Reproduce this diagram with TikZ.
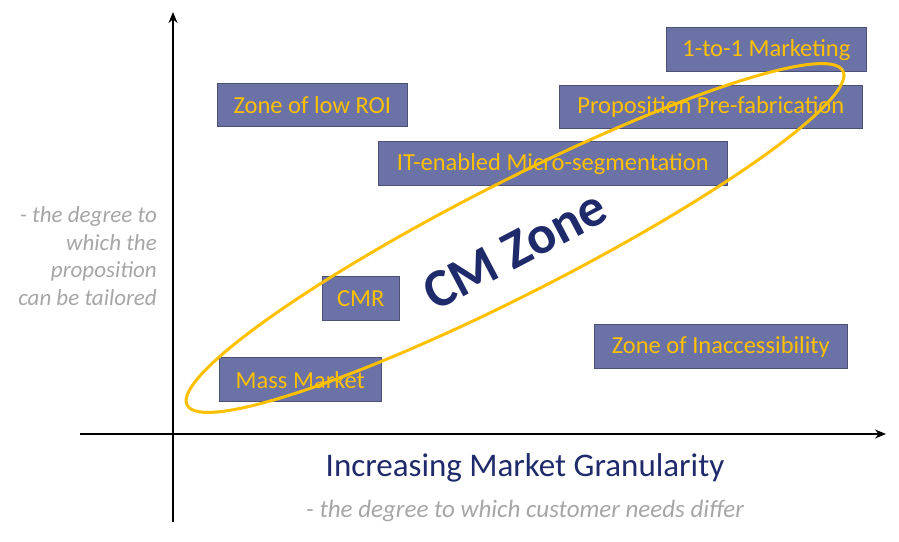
\documentclass[tikz,border=0pt]{standalone}
\usepackage{fontspec}
\setmainfont{Carlito}
\usetikzlibrary{arrows.meta}
\definecolor{boxc}{HTML}{6B72A6}
\definecolor{txto}{HTML}{FFC000}
\definecolor{navy}{HTML}{1F2A6B}
\definecolor{grayt}{HTML}{A6A6A6}
\tikzset{zbox/.style={fill=boxc,draw=boxc!70!black,line width=0.6pt,anchor=south west,inner sep=0pt},
ztxt/.style={text=txto,font=\fontsize{24.5}{28}\selectfont,inner sep=0pt},
ax/.style={line width=1.8pt,-{Stealth[length=11pt,width=9pt]}}}
\begin{document}
\begin{tikzpicture}[x=1pt,y=1pt]
\useasboundingbox (0,0) rectangle (899,541);
\coordinate (o) at (173,19);
\coordinate (yt) at (173,529);
\coordinate (xl) at (80,107);
\coordinate (xr) at (886,107);
\draw[ax] (o) -- (yt);
\draw[ax] (xl) -- (xr);
\node[zbox,minimum width=200pt,minimum height=44pt] (a) at (666,469) {};
\node[ztxt] (at) at (a.center) {1-to-1 Marketing};
\node[zbox,minimum width=303pt,minimum height=43pt] (b) at (559,412) {};
\node[ztxt] (bt) at (b.center) {Proposition Pre-fabrication};
\node[zbox,minimum width=190pt,minimum height=43pt] (c) at (217,414) {};
\node[ztxt] (ct) at (c.center) {Zone of low ROI};
\node[zbox,minimum width=349pt,minimum height=44pt] (d) at (378,355) {};
\node[ztxt] (dt) at (d.center) {IT-enabled Micro-segmentation};
\node[zbox,minimum width=77pt,minimum height=44pt] (e) at (322,220) {};
\node[ztxt] (et) at (e.center) {CMR};
\node[zbox,minimum width=162pt,minimum height=44pt] (f) at (219,139) {};
\node[ztxt] (ft) at (f.center) {Mass Market};
\node[zbox,minimum width=253pt,minimum height=44pt] (g) at (594,172) {};
\node[ztxt] (gt) at (g.center) {Zone of Inaccessibility};
\draw[txto,line width=3pt,rotate around={27:(515,303)}] (515,303) ellipse (368 and 56);
\node[text=navy,font=\bfseries\fontsize{54}{60}\selectfont,rotate=27.8,inner sep=0pt] (cm) at (515,291) {CM Zone};
\node[text=grayt,font=\itshape\fontsize{23}{27.5}\selectfont,align=right,anchor=east,inner sep=0pt] (lt) at (157,285) {- the degree to\\which the\\proposition\\can be tailored};
\node[text=navy,font=\fontsize{33}{38}\selectfont,inner sep=0pt] (xt) at (525,73) {Increasing Market Granularity};
\node[text=grayt,font=\itshape\fontsize{25}{28}\selectfont,inner sep=0pt] (xs) at (525,30) {- the degree to which customer needs differ};
\end{tikzpicture}
\end{document}
